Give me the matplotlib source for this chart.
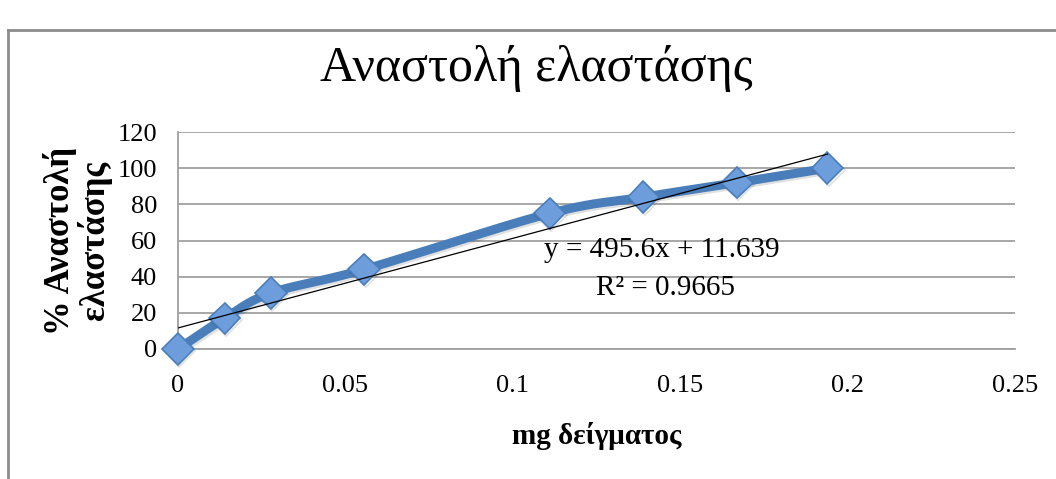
import numpy as np
import matplotlib.pyplot as plt
import matplotlib.patheffects as pe
from matplotlib.lines import Line2D

# data
mg_sample = [0, 0.0139, 0.0278, 0.0556, 0.111, 0.139, 0.167, 0.194]
inhibition = [0, 17, 31, 44, 75, 84, 92, 100]
slope = 495.6
intercept = 11.639
r_squared = 0.9665
y_ticks = [0, 20, 40, 60, 80, 100, 120]
x_ticks = [0, 0.05, 0.1, 0.15, 0.2, 0.25]

plt.rcParams['font.family'] = ['Liberation Serif', 'DejaVu Serif']


def smooth(xs, ys, sx, sy, n=30):
    # catmull-rom through the points, like the Excel smoothed line
    p = np.column_stack([np.asarray(xs) * sx, np.asarray(ys) * sy])
    p = np.vstack([p[0] - (p[1] - p[0]), p, p[-1] + (p[-1] - p[-2])])
    out = []
    for i in range(1, len(p) - 2):
        p0, p1, p2, p3 = p[i - 1], p[i], p[i + 1], p[i + 2]
        t = np.linspace(0, 1, n)[:, None]
        c = 0.5 * ((2 * p1) + (-p0 + p2) * t + (2 * p0 - 5 * p1 + 4 * p2 - p3) * t ** 2
                   + (-p0 + 3 * p1 - 3 * p2 + p3) * t ** 3)
        out.append(c)
    out = np.vstack(out)
    return out[:, 0] / sx, out[:, 1] / sy


fig = plt.figure(figsize=(10.56, 4.79), dpi=100)
ax = fig.add_axes([0.1686, 0.2714, 0.7925, 0.453])

# frame of the chart area
fig.add_artist(Line2D([0.008, 1.0], [0.937, 0.937], color='#8c8c8c', lw=2, transform=fig.transFigure))
fig.add_artist(Line2D([0.008, 0.008], [0.0, 0.937], color='#8c8c8c', lw=2, transform=fig.transFigure))

ax.set_xlim(0, 0.25)
ax.set_ylim(0, 120)
ax.set_xticks(x_ticks)
ax.set_xticklabels(['0', '0.05', '0.1', '0.15', '0.2', '0.25'])
ax.set_yticks(y_ticks)
ax.tick_params(length=0, labelsize=19)
ax.tick_params(axis='y', pad=15)
ax.tick_params(axis='x', pad=19)
ax.grid(axis='y', color='#a0a0a0', lw=1.3)
ax.set_axisbelow(True)
for s in ['top', 'right']:
    ax.spines[s].set_visible(False)
ax.spines['left'].set_color('#a0a0a0')
ax.spines['bottom'].set_color('#a0a0a0')
ax.spines['left'].set_linewidth(1.3)
ax.spines['bottom'].set_linewidth(1.3)

# smoothed series
sx, sy = 837 / 0.25, 217 / 120
xs, ys = smooth(mg_sample, inhibition, sx, sy)
shadow = [pe.SimpleLineShadow(offset=(1, -1.5), alpha=0.12), pe.Normal()]
ax.plot(xs, ys, color='#4a7ebb', lw=6.5, solid_capstyle='round', zorder=3,
        path_effects=shadow, clip_on=False)
ax.plot(mg_sample, inhibition, ls='none', marker='D', ms=16, mfc='#6e9ddc',
        mec='#4a7ebb', mew=1.2, zorder=4, path_effects=shadow, clip_on=False)

# linear trendline
tx = np.array([mg_sample[0], mg_sample[-1]])
ax.plot(tx, slope * tx + intercept, color='black', lw=0.9, zorder=5)

ax.text(0.1445, 55, 'y = 495.6x + 11.639', fontsize=21, ha='center', va='center', zorder=6)
ax.text(0.1455, 33.5, 'R² = 0.9665', fontsize=21, ha='center', va='center', zorder=6)

fig.text(0.508, 0.857, 'Αναστολή ελαστάσης', fontsize=36, ha='center', va='center')
ax.set_ylabel('% Αναστολή\nελαστάσης', fontsize=25, fontweight='bold', labelpad=4, linespacing=1.0)
ax.set_xlabel('mg δείγματος', fontsize=21, fontweight='bold', labelpad=18)

fig.savefig('out.png', dpi=100)
